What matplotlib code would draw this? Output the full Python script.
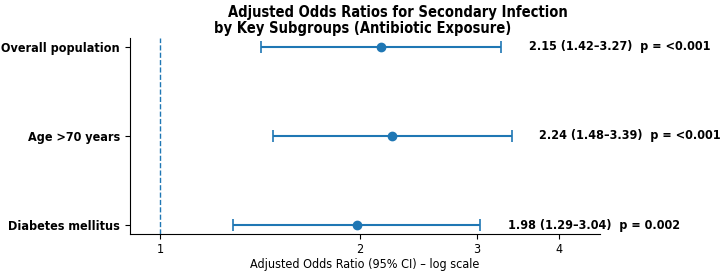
import numpy as np
import matplotlib
matplotlib.use("Agg")
import matplotlib.pyplot as plt

# subgroup estimates (adjusted OR with 95% CI)
subgroups = ["Overall population", "Age >70 years", "Diabetes mellitus"]
odds_ratio = [2.15, 2.24, 1.98]
ci_low = [1.42, 1.48, 1.29]
ci_high = [3.27, 3.39, 3.04]
p_values = ["<0.001", "<0.001", "0.002"]
xtick_vals = [1, 2, 3, 4]

color = "#1f77b4"
plt.rcParams["font.stretch"] = "condensed"

fig, ax = plt.subplots(figsize=(7.2, 2.75), dpi=100)
fig.subplots_adjust(left=0.18, right=0.833, bottom=0.149, top=0.862)

y = np.arange(len(subgroups))
or_arr = np.array(odds_ratio)
err = [or_arr - np.array(ci_low), np.array(ci_high) - or_arr]
ax.errorbar(odds_ratio, y, xerr=err, fmt="o", color=color, ecolor=color,
            elinewidth=1.5, capsize=4, capthick=1.2, markersize=6)
ax.axvline(1, color=color, linestyle="--", linewidth=1)

ax.set_xscale("log")
ax.set_xlim(0.9, 4.6)
ax.set_xticks(xtick_vals)
ax.set_xticklabels([str(v) for v in xtick_vals], fontsize=9)
ax.minorticks_off()
ax.tick_params(axis="x", pad=3)
ax.set_yticks(y)
ax.set_yticklabels(subgroups, fontsize=9, fontweight="bold")
ax.invert_yaxis()

for i in range(len(subgroups)):
    label = f"{odds_ratio[i]:.2f} ({ci_low[i]:.2f}\u2013{ci_high[i]:.2f})  p = {p_values[i]}"
    ax.text(ci_high[i] * 1.1, y[i], label, va="center", ha="left",
            fontsize=9, fontweight="bold", clip_on=False)

ax.spines["top"].set_visible(False)
ax.spines["right"].set_visible(False)
ax.set_xlabel("Adjusted Odds Ratio (95% CI) \u2013 log scale", fontsize=9, labelpad=1.5)

# title: two lines, first line sits a little right of the second
fig.text(0.553, 0.955, "Adjusted Odds Ratios for Secondary Infection",
         ha="center", va="center", fontsize=10.5, fontweight="bold")
fig.text(0.504, 0.897, "by Key Subgroups (Antibiotic Exposure)",
         ha="center", va="center", fontsize=10.5, fontweight="bold")

fig.savefig("out.png", dpi=100)
